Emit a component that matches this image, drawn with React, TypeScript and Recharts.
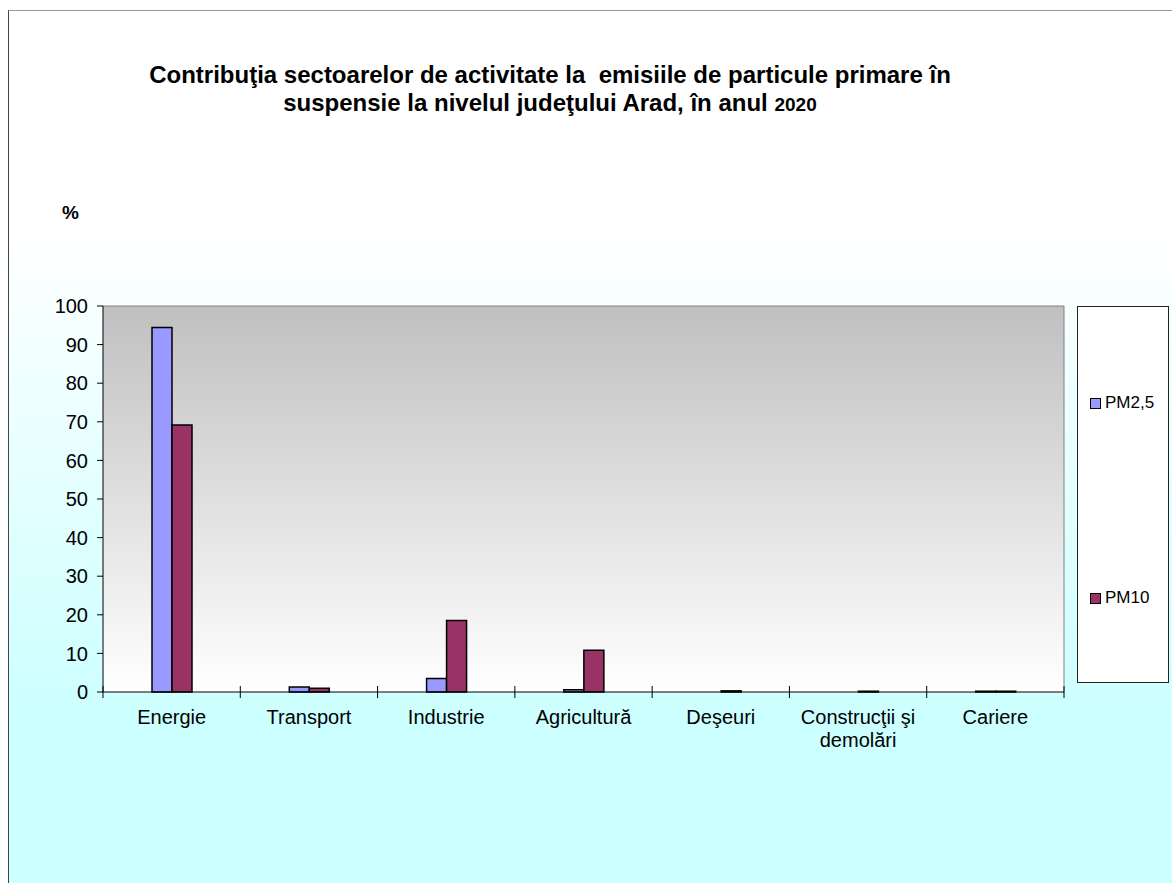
import { BarChart, Bar, XAxis, YAxis, CartesianGrid, Text } from "recharts";

const categories = [
  "Energie",
  "Transport",
  "Industrie",
  "Agricultură",
  "Deşeuri",
  "Construcţii şi demolări",
  "Cariere",
];
const pm25 = [94.4, 1.3, 3.5, 0.6, 0, 0, 0.2];
const pm10 = [69.2, 1.0, 18.5, 10.8, 0.3, 0.2, 0.2];
const yTicks = [0, 10, 20, 30, 40, 50, 60, 70, 80, 90, 100];

const data = categories.map((name, i) => ({ name, pm25: pm25[i], pm10: pm10[i] }));

const FONT = "'Liberation Sans', Arial, sans-serif";
const W = 1163;
const H = 872;
const M = { top: 294, right: 107, bottom: 131, left: 34 };
const Y_W = 60;
const PLOT_W = W - M.left - M.right - Y_W - 1;
const BAND = PLOT_W / categories.length;

const COLOR_25 = "#9999ff";
const COLOR_10 = "#993366";

function CategoryTick(props: any) {
  const { x, y, payload, index } = props;
  const last = index === categories.length - 1;
  return (
    <g>
      <line x1={x - BAND / 2} x2={x - BAND / 2} y1={y - 6} y2={y + 6} stroke="#000" />
      {last && <line x1={x + BAND / 2} x2={x + BAND / 2} y1={y - 6} y2={y + 6} stroke="#000" />}
      <Text
        x={x}
        y={y + 18}
        width={BAND - 4}
        textAnchor="middle"
        verticalAnchor="start"
        lineHeight={23}
        fontSize={20}
        fontFamily={FONT}
        fill="#000"
      >
        {payload.value}
      </Text>
    </g>
  );
}

export default function App() {
  return (
    <div
      style={{
        position: "absolute",
        left: 8,
        top: 10,
        width: 1164,
        height: 873,
        borderTop: "1px solid #999",
        borderLeft: "1px solid #444",
        background: "linear-gradient(180deg, #ffffff 0%, #ffffff 25%, #ccffff 81%, #ccffff 100%)",
        fontFamily: FONT,
        overflow: "hidden",
      }}
    >
      <div
        style={{
          position: "absolute",
          left: 0,
          top: 50,
          width: 1082,
          textAlign: "center",
          fontWeight: "bold",
          fontSize: 24,
          lineHeight: "28px",
          color: "#000",
        }}
      >
        Contribuţia sectoarelor de activitate la&nbsp; emisiile de particule primare în
        <br />
        suspensie la nivelul judeţului Arad, în anul <span style={{ fontSize: 19 }}>2020</span>
      </div>
      <div style={{ position: "absolute", left: 53, top: 191, fontWeight: "bold", fontSize: 19 }}>%</div>

      <div style={{ position: "absolute", left: 0, top: 0 }}>
        <BarChart width={W} height={H} data={data} margin={M} barGap={0} barSize={20}>
          <defs>
            <linearGradient id="plotBg" x1="0" y1="0" x2="0" y2="1">
              <stop offset="0%" stopColor="#c0c0c0" />
              <stop offset="100%" stopColor="#ffffff" />
            </linearGradient>
          </defs>
          <CartesianGrid horizontal={false} vertical={false} fill="url(#plotBg)" />
          <XAxis
            xAxisId="top"
            dataKey="name"
            orientation="top"
            height={1}
            tick={false}
            tickLine={false}
            axisLine={{ stroke: "#808080" }}
          />
          <YAxis
            yAxisId="right"
            orientation="right"
            width={1}
            domain={[0, 100]}
            type="number"
            tick={false}
            tickLine={false}
            axisLine={{ stroke: "#808080" }}
          />
          <XAxis
            dataKey="name"
            height={60}
            interval={0}
            tickLine={false}
            tickSize={0}
            tickMargin={0}
            axisLine={{ stroke: "#000" }}
            tick={<CategoryTick />}
          />
          <YAxis
            width={Y_W}
            domain={[0, 100]}
            ticks={yTicks}
            interval={0}
            tickSize={6}
            tickMargin={9}
            axisLine={{ stroke: "#000" }}
            tickLine={{ stroke: "#000" }}
            tick={{ fill: "#000", fontSize: 20, fontFamily: FONT }}
          />
          <Bar dataKey="pm25" name="PM2,5" fill={COLOR_25} stroke="#000" strokeWidth={1.5} isAnimationActive={false} />
          <Bar dataKey="pm10" name="PM10" fill={COLOR_10} stroke="#000" strokeWidth={1.5} isAnimationActive={false} />
        </BarChart>
      </div>

      <div
        style={{
          position: "absolute",
          left: 1068,
          top: 295,
          width: 90,
          height: 375,
          border: "1px solid #222",
          background: "#fff",
          fontSize: 17,
        }}
      >
        {[
          { label: "PM2,5", color: COLOR_25, top: 86 },
          { label: "PM10", color: COLOR_10, top: 281 },
        ].map((it) => (
          <div key={it.label} style={{ position: "absolute", left: 12, top: it.top, display: "flex", alignItems: "center", height: 20 }}>
            <span
              style={{
                display: "inline-block",
                width: 9,
                height: 9,
                border: "1.5px solid #000",
                background: it.color,
                marginRight: 4,
              }}
            />
            <span>{it.label}</span>
          </div>
        ))}
      </div>
    </div>
  );
}
